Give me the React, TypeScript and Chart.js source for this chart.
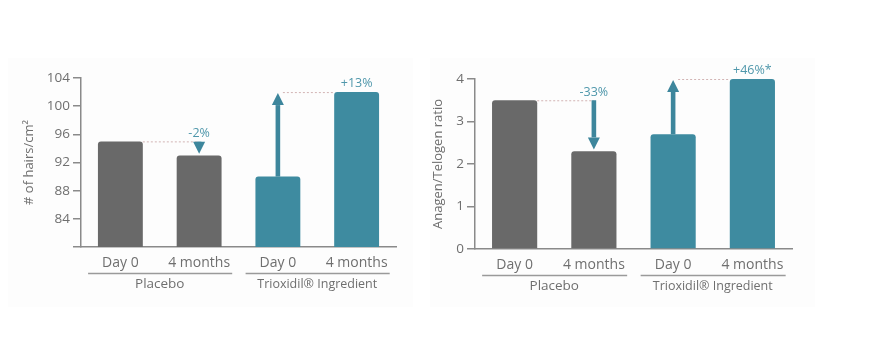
import React, { useEffect, useRef } from "react";
import { Chart, registerables } from "chart.js";
Chart.register(...registerables);

const categories = ["Day 0", "4 months", "Day 0", "4 months"];
const groups = ["Placebo", "Trioxidil® Ingredient"];
const hairDensity = [95, 93, 90, 102];
const hairChanges = ["-2%", "+13%"];
const hairTickRange = [80, 104, 4];
const ratioValues = [3.5, 2.3, 2.7, 4.0];
const ratioChanges = ["-33%", "+46%*"];
const ratioTickRange = [0, 4, 1];

const GRAY = "#696969";
const TEAL = "#3e8ba0";
const ARROW = "#3d869c";
const LABEL_TEAL = "#4f97ab";
const AXIS = "#8a8a8a";
const TEXT = "#6f6f6f";
const DASH = "#d2b4b4";
const FONT = "'Open Sans', 'DejaVu Sans', sans-serif";
const BAR_PCT = 0.57;

type Cfg = {
  values: number[];
  changes: string[];
  range: number[];
  title: string;
  titleX: number;
  width: number;
  padTop: number;
  padRight: number;
  yWidth: number;
  xHeight: number;
  hideMin: boolean;
};

function drawArrow(ctx: CanvasRenderingContext2D, x: number, y0: number, tip: number) {
  const head = 12;
  const hw = 6;
  const dir = tip > y0 ? 1 : -1;
  const base = tip - dir * head;
  ctx.fillStyle = ARROW;
  if ((base - y0) * dir > 0) {
    ctx.fillRect(x - 2.3, Math.min(y0, base), 4.6, Math.abs(base - y0));
  }
  ctx.beginPath();
  ctx.moveTo(x - hw, base);
  ctx.lineTo(x + hw, base);
  ctx.lineTo(x, tip);
  ctx.closePath();
  ctx.fill();
}

function makePlugin(cfg: Cfg) {
  return {
    id: "annot",
    afterDraw(chart: any) {
      const ctx: CanvasRenderingContext2D = chart.ctx;
      const xs = chart.scales.x;
      const ys = chart.scales.y;
      const area = chart.chartArea;
      const catW = xs.getPixelForValue(1) - xs.getPixelForValue(0);
      const barW = catW * BAR_PCT;
      ctx.save();
      // group underline + labels
      groups.forEach((g, i) => {
        const c0 = xs.getPixelForValue(2 * i);
        const c1 = xs.getPixelForValue(2 * i + 1);
        ctx.strokeStyle = "#9a9a9a";
        ctx.lineWidth = 1.5;
        ctx.beginPath();
        ctx.moveTo(c0 - 0.41 * catW, area.bottom + 26.5);
        ctx.lineTo(c1 + 0.42 * catW, area.bottom + 26.5);
        ctx.stroke();
        ctx.fillStyle = TEXT;
        ctx.textAlign = "center";
        ctx.textBaseline = "middle";
        ctx.font = (i === 0 ? "13.5px " : "12.5px ") + FONT;
        ctx.fillText(g, (c0 + c1) / 2, area.bottom + 37.5);
      });
      // change arrows
      groups.forEach((_, i) => {
        const c0 = xs.getPixelForValue(2 * i);
        const c1 = xs.getPixelForValue(2 * i + 1);
        const from = cfg.values[2 * i];
        const to = cfg.values[2 * i + 1];
        const yFrom = ys.getPixelForValue(from);
        const yTo = ys.getPixelForValue(to);
        ctx.strokeStyle = DASH;
        ctx.lineWidth = 1;
        ctx.setLineDash([2, 2]);
        ctx.beginPath();
        if (to < from) {
          ctx.moveTo(c0 + barW / 2, yFrom + 0.5);
          ctx.lineTo(c1, yFrom + 0.5);
        } else {
          ctx.moveTo(c0 + 5, yTo + 0.5);
          ctx.lineTo(c1 - barW / 2, yTo + 0.5);
        }
        ctx.stroke();
        ctx.setLineDash([]);
        if (to < from) {
          drawArrow(ctx, c1, yFrom, yTo - 1.8);
        } else {
          drawArrow(ctx, c0, yFrom, yTo + 1);
        }
        ctx.fillStyle = LABEL_TEAL;
        ctx.font = "12.5px " + FONT;
        ctx.textAlign = "center";
        ctx.textBaseline = "middle";
        const ly = (to < from ? yFrom : yTo) - 8.3;
        ctx.fillText(cfg.changes[i], c1, ly);
      });
      // y title
      ctx.translate(cfg.titleX, (area.top + area.bottom) / 2);
      ctx.rotate(-Math.PI / 2);
      ctx.fillStyle = TEXT;
      ctx.font = "13px " + FONT;
      ctx.textAlign = "center";
      ctx.textBaseline = "middle";
      ctx.fillText(cfg.title, 0, 0);
      ctx.restore();
    },
  };
}

function BarPanel({ cfg, left }: { cfg: Cfg; left: number }) {
  const ref = useRef<HTMLCanvasElement>(null);
  useEffect(() => {
    if (!ref.current) return;
    const chart = new Chart(ref.current, {
      type: "bar",
      data: {
        labels: categories,
        datasets: [
          {
            data: cfg.values,
            backgroundColor: [GRAY, GRAY, TEAL, TEAL],
            borderRadius: { topLeft: 3, topRight: 3, bottomLeft: 0, bottomRight: 0 },
            borderSkipped: false,
            categoryPercentage: 1,
            barPercentage: BAR_PCT,
          },
        ],
      },
      options: {
        responsive: false,
        animation: false,
        devicePixelRatio: 1,
        layout: { padding: { left: 0, top: cfg.padTop, right: cfg.padRight, bottom: 0 } },
        plugins: { legend: { display: false }, tooltip: { enabled: false } },
        scales: {
          x: {
            grid: { display: false },
            border: { display: true, color: AXIS, width: 1.5 },
            ticks: { font: { family: FONT, size: 14 }, color: TEXT, padding: 0, maxRotation: 0 },
            afterFit: (s: any) => {
              s.height = cfg.xHeight;
            },
          },
          y: {
            min: cfg.range[0],
            max: cfg.range[1],
            ticks: {
              stepSize: cfg.range[2],
              font: { family: FONT, size: 13.5 },
              color: TEXT,
              padding: 3,
              callback: (v: any) => (cfg.hideMin && v === cfg.range[0] ? "" : String(v)),
            },
            grid: { drawOnChartArea: false, drawTicks: true, tickLength: 8, color: AXIS, lineWidth: 1.5 },
            border: { display: true, color: AXIS, width: 1.5 },
            afterFit: (s: any) => {
              s.width = cfg.yWidth;
            },
          },
        },
      },
      plugins: [makePlugin(cfg)],
    } as any);
    return () => chart.destroy();
  }, []);
  return (
    <canvas
      ref={ref}
      width={cfg.width}
      height={362}
      style={{ position: "absolute", left, top: 0, width: cfg.width, height: 362 }}
    />
  );
}

const leftCfg: Cfg = {
  values: hairDensity,
  changes: hairChanges,
  range: hairTickRange,
  title: "# of hairs/cm²",
  titleX: 29,
  width: 430,
  padTop: 78,
  padRight: 34,
  yWidth: 81,
  xHeight: 115,
  hideMin: true,
};

const rightCfg: Cfg = {
  values: ratioValues,
  changes: ratioChanges,
  range: ratioTickRange,
  title: "Anagen/Telogen ratio",
  titleX: 8.5,
  width: 443,
  padTop: 79,
  padRight: 81,
  yWidth: 45,
  xHeight: 113,
  hideMin: false,
};

export default function App() {
  return (
    <div style={{ position: "absolute", left: 0, top: 0, width: 873, height: 362, background: "#ffffff", overflow: "hidden" }}>
      <div style={{ position: "absolute", left: 8, top: 58, width: 405, height: 249, background: "#fdfdfd" }} />
      <div style={{ position: "absolute", left: 430, top: 58, width: 385, height: 249, background: "#fdfdfd" }} />
      <BarPanel cfg={leftCfg} left={0} />
      <BarPanel cfg={rightCfg} left={430} />
    </div>
  );
}
